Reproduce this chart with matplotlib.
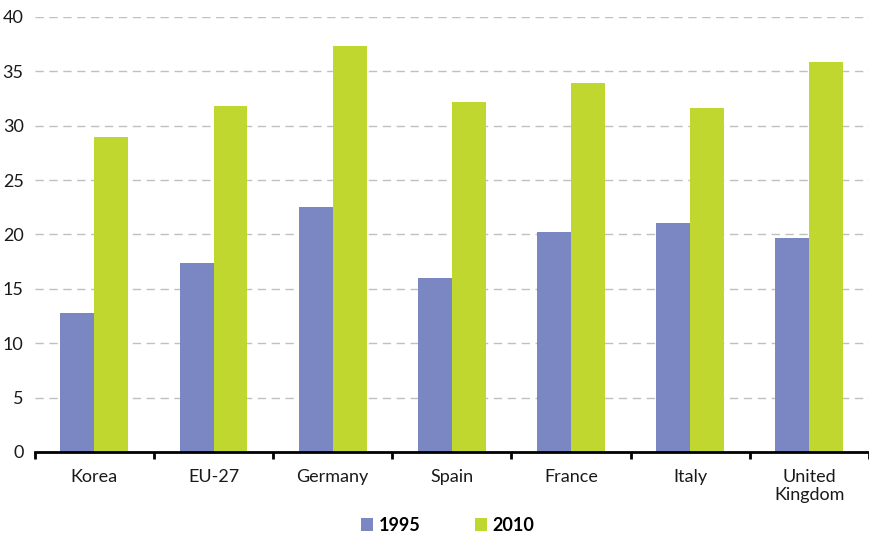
import numpy as np
import matplotlib
matplotlib.use("Agg")
import matplotlib.pyplot as plt

countries = ["Korea", "EU-27", "Germany", "Spain", "France", "Italy", "United\nKingdom"]
v1995 = [12.8, 17.4, 22.5, 16.0, 20.2, 21.1, 19.7]
v2010 = [29.0, 31.8, 37.3, 32.2, 33.9, 31.6, 35.9]

plt.rcParams['font.family'] = ['Lato', 'DejaVu Sans']

fig = plt.figure(figsize=(8.69, 5.34), dpi=100)
ax = fig.add_axes([0.040, 0.1536, 0.960, 0.8146])

x = np.arange(len(countries))
w = 0.285
ax.bar(x - w/2, v1995, w, color="#7b87c3", label="1995", zorder=3)
ax.bar(x + w/2, v2010, w, color="#c0d730", label="2010", zorder=3)

ax.set_xlim(-0.5, len(countries) - 0.5)
ax.set_ylim(0, 40)
ax.set_yticks(np.arange(0, 41, 5))
ax.yaxis.grid(True, color="#c0c0c0", linestyle=(0, (6, 4)), linewidth=1, zorder=0)
ax.tick_params(axis="y", length=0, labelsize=13, pad=8, colors="#1a1a1a")

ax.set_xticks(x)
ax.set_xticklabels(countries, fontsize=13, color="#1a1a1a", linespacing=1.15)
ax.tick_params(axis="x", which="major", length=0, pad=12)
ax.set_xticks(np.arange(-0.5, len(countries)), minor=True)
ax.tick_params(axis="x", which="minor", length=5, width=2, direction="out", color="black")

for s in ["top", "right", "left"]:
    ax.spines[s].set_visible(False)
ax.spines["bottom"].set_linewidth(2)
ax.spines["bottom"].set_zorder(4)

leg = fig.legend(loc="lower center", bbox_to_anchor=(0.515, -0.03), ncol=2, frameon=False,
                 handlelength=0.7, handleheight=0.7, handletextpad=0.3, columnspacing=3.0,
                 prop={"weight": "bold", "size": 13})

fig.savefig("out.png", dpi=100)
